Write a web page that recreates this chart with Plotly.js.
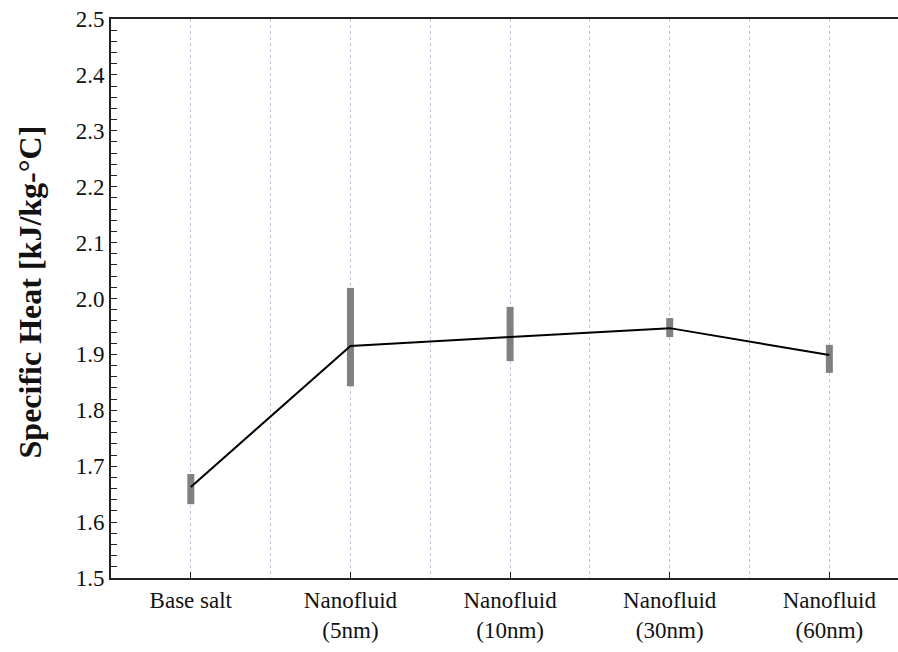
<!DOCTYPE html>
<html>
<head>
<meta charset="utf-8">
<script src="https://cdn.plot.ly/plotly-3.0.1.min.js"></script>
<style>html,body{margin:0;padding:0;background:#fff;}#chart{width:898px;height:652px;}</style>
</head>
<body>
<div id="chart"></div>
<script>
const categories = ["Base salt", "Nanofluid<br>(5nm)", "Nanofluid<br>(10nm)", "Nanofluid<br>(30nm)", "Nanofluid<br>(60nm)"];
const specificHeat = [1.663, 1.915, 1.931, 1.947, 1.899];
const errUpper = [1.686, 2.019, 1.985, 1.965, 1.917];
const errLower = [1.632, 1.843, 1.888, 1.931, 1.867];
const yTickVals = [1.5, 1.6, 1.7, 1.8, 1.9, 2.0, 2.1, 2.2, 2.3, 2.4, 2.5];
const yTickText = ["1.5", "1.6", "1.7", "1.8", "1.9", "2.0", "2.1", "2.2", "2.3", "2.4", "2.5"];
const yTitle = "Specific Heat [kJ/kg-°C]";

const xIdx = categories.map((_, i) => i);
const plus = specificHeat.map((v, i) => errUpper[i] - v);
const minus = specificHeat.map((v, i) => v - errLower[i]);

const trace = {
  x: xIdx,
  y: specificHeat,
  type: 'scatter',
  mode: 'lines',
  line: {color: '#000', width: 2},
  error_y: {type: 'data', symmetric: false, array: plus, arrayminus: minus, color: '#808080', thickness: 7, width: 0},
  hoverinfo: 'skip'
};

const FAM = 'Liberation Serif';
const TXT = '#111';
const labelFont = {family: FAM, size: 23, color: TXT};

const layout = {
  width: 898, height: 652,
  margin: {l: 111, r: 0, t: 19, b: 74},
  paper_bgcolor: '#fff', plot_bgcolor: '#fff',
  showlegend: false,
  font: {family: FAM, size: 23, color: TXT},
  annotations: [{
    xref: 'paper', x: -0.103, xanchor: 'center',
    yref: 'paper', y: 0.5125, yanchor: 'middle',
    textangle: -90, showarrow: false,
    text: '<b>' + yTitle + '</b>',
    font: {family: FAM, size: 32, color: TXT}
  }],
  xaxis: {
    range: [-0.5, 4.43],
    tickmode: 'array', tickvals: xIdx, ticktext: categories,
    tickfont: labelFont,
    ticks: 'inside', ticklen: 6, tickcolor: '#222', tickwidth: 1,
    showline: true, linecolor: '#222', linewidth: 2, mirror: true,
    showgrid: true, gridcolor: '#bcc6dc', griddash: 'dot', gridwidth: 1,
    minor: {dtick: 0.5, tick0: 0.5, showgrid: true, gridcolor: '#bcc6dc', griddash: 'dot', gridwidth: 1, ticks: ''},
    zeroline: false, fixedrange: true
  },
  yaxis: {
    range: [1.5, 2.5],
    tickmode: 'array', tickvals: yTickVals, ticktext: yTickText,
    tickfont: labelFont,
    ticks: 'inside', ticklen: 6, tickcolor: '#222', tickwidth: 1,
    minor: {dtick: 0.02, tick0: 1.5, ticks: 'inside', ticklen: 6, tickcolor: '#222', tickwidth: 1, showgrid: false},
    showline: true, linecolor: '#222', linewidth: 2,
    showgrid: false, zeroline: false,
    fixedrange: true
  }
};

Plotly.newPlot('chart', [trace], layout, {displayModeBar: false, staticPlot: true});
</script>
</body>
</html>
